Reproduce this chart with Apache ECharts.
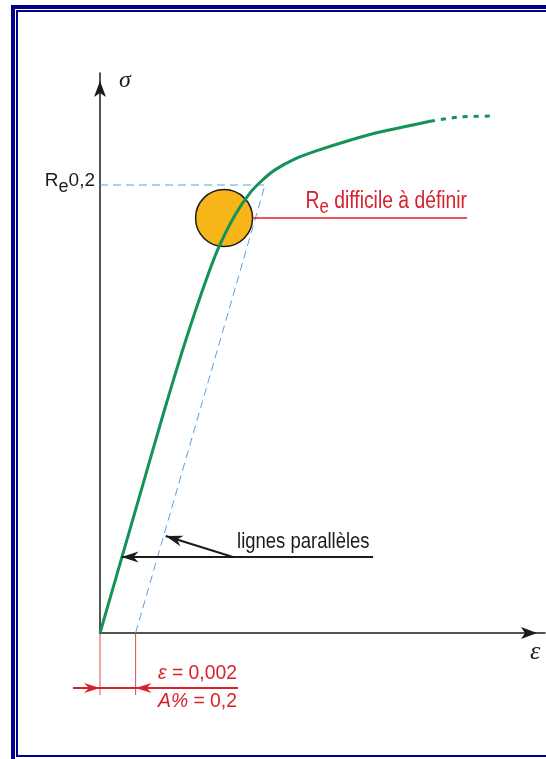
<!DOCTYPE html>
<html>
<head>
<meta charset="utf-8">
<script src="https://cdn.jsdelivr.net/npm/echarts@6/dist/echarts.min.js"></script>
<style>
  html, body { margin: 0; padding: 0; background: #fff; }
  #chart { width: 546px; height: 759px; }
</style>
</head>
<body>
<div id="chart"></div>
<script>
// courbe de traction : x = allongement A% , y = contrainte σ
var courbe = [[0, 0], [0.12, 66], [0.24, 132], [0.36, 198], [0.458, 249.5], [0.553, 295.6],
              [0.657, 340.7], [0.758, 373], [0.843, 393], [0.91, 404], [0.983, 413.5],
              [1.096, 423.3], [1.219, 430.7], [1.404, 440], [1.573, 447.3], [1.854, 457]];
var prolongement = [[1.854, 457], [2.022, 460.7], [2.219, 461.6]];
var re02 = 400;          // Re0,2
var decalage = 0.2;      // A% = 0,2
var finParallele = 0.927;
var zoneFloue = [[0.697, 370.5]];
var repere = [[0.857, 370.5], [2.062, 370.5]];
var etiquettesY = {400: '{a|R}{b|e}{a|0,2}'};

var vert = '#11935a';
var bleu = '#5a9de0';
var rouge = '#d8212a';
var noir = '#1b1b1b';
var police = '"Liberation Sans", Arial, sans-serif';
var serif = '"Liberation Serif", "Times New Roman", serif';

var chart = echarts.init(document.getElementById('chart'));

var option = {
    animation: false,
    grid: {left: 100, top: 73, width: 445, height: 560, outerBoundsMode: 'none'},
    xAxis: {
        type: 'value', min: 0, max: 2.5,
        axisLine: {
            lineStyle: {color: noir, width: 1.5},
            symbol: ['none', 'arrow'], symbolSize: [9, 16], symbolOffset: [0, -8]
        },
        axisTick: {show: false},
        axisLabel: {show: false},
        splitLine: {show: false}
    },
    yAxis: {
        type: 'value', min: 0, max: 500, interval: 400,
        axisLine: {
            show: true, onZero: false,
            lineStyle: {color: noir, width: 1.5},
            symbol: ['none', 'arrow'], symbolSize: [9, 16], symbolOffset: [0, -8]
        },
        axisTick: {show: false},
        splitLine: {show: false},
        axisLabel: {
            margin: 5,
            formatter: function (v) { return etiquettesY[v] || ''; },
            rich: {
                a: {fontFamily: police, fontSize: 19, color: noir, lineHeight: 24, padding: [0, 0, 8, 0]},
                b: {fontFamily: police, fontSize: 18, color: noir, lineHeight: 24, padding: [5, 0, 0, 0]}
            }
        }
    },
    series: [
        {
            type: 'scatter', data: zoneFloue, symbolSize: 57, z: 1, silent: true,
            itemStyle: {color: '#f7b519', borderColor: '#1c1c1c', borderWidth: 1.5, opacity: 1}
        },
        {
            type: 'line', data: [[0, re02], [finParallele, re02]], symbol: 'none', z: 2,
            lineStyle: {color: bleu, width: 1, type: [8, 5]}
        },
        {
            type: 'line', data: [[decalage, 0], [finParallele, re02]], symbol: 'none', z: 2,
            lineStyle: {color: bleu, width: 1, type: [8, 5]}
        },
        {
            type: 'line', data: courbe, symbol: 'none', smooth: 0.25, z: 3,
            lineStyle: {color: vert, width: 3}
        },
        {
            type: 'line', data: prolongement, symbol: 'none', smooth: 0.25, z: 3,
            lineStyle: {color: vert, width: 3, type: [5, 6]}
        },
        {
            type: 'line', data: repere, symbol: 'none', z: 2,
            lineStyle: {color: rouge, width: 1.5}
        }
    ]
};

chart.setOption(option);

var P = function (x, y) { return chart.convertToPixel({gridIndex: 0}, [x, y]); };

function trait(a, b, color, w) {
    return {type: 'line', z: 10, shape: {x1: a[0], y1: a[1], x2: b[0], y2: b[1]},
            style: {stroke: color, lineWidth: w}};
}
function pointe(tip, from, L, W, N, color) {
    var dx = tip[0] - from[0], dy = tip[1] - from[1];
    var len = Math.sqrt(dx * dx + dy * dy), ux = dx / len, uy = dy / len, nx = -uy, ny = ux;
    return {type: 'polygon', z: 11, style: {fill: color}, shape: {points: [
        tip,
        [tip[0] - L * ux + W * nx, tip[1] - L * uy + W * ny],
        [tip[0] - (L - N) * ux, tip[1] - (L - N) * uy],
        [tip[0] - L * ux - W * nx, tip[1] - L * uy - W * ny]
    ]}};
}
function texte(pos, txt, rich, align, sx, extra) {
    var st = {text: txt, rich: rich, align: align, verticalAlign: 'middle'};
    for (var k in extra) st[k] = extra[k];
    return {type: 'text', z: 12, x: pos[0], y: pos[1], scaleX: sx, style: st};
}

var yRe = P(0, repere[0][1])[1];
var yFleche = P(0, 67.9)[1];
var yCote = P(0, -49.1)[1];
var yBasCote = P(0, -55.4)[1];
var o = P(0, 0), d = P(decalage, 0);

var elements = [
    // cadre
    {type: 'rect', z: 0, shape: {x: 13, y: 7, width: 600, height: 800}, style: {fill: 'none', stroke: '#000088', lineWidth: 4}},
    {type: 'rect', z: 0, shape: {x: 17, y: 11, width: 600, height: 745}, style: {fill: 'none', stroke: '#000088', lineWidth: 2}},

    // noms des axes
    texte([P(0, 500)[0] + 25, P(0, 500)[1] + 8], 'σ', null, 'center', 1,
          {fontFamily: serif, fontStyle: 'italic', fontSize: 24, fill: noir}),
    texte([P(2.5, 0)[0] - 10, P(2.5, 0)[1] + 19], 'ε', null, 'center', 1,
          {fontFamily: serif, fontStyle: 'italic', fontSize: 26, fill: noir}),

    // Re difficile à définir
    texte([P(repere[1][0], 0)[0], yRe - 16], '{a|R}{b|e}{a| difficile à définir}', {
        a: {fontFamily: police, fontSize: 23, lineHeight: 26, fill: rouge},
        b: {fontFamily: police, fontSize: 20, lineHeight: 26, fill: rouge, padding: [11, 0, 0, 0]}
    }, 'right', 0.84, {}),

    // lignes parallèles
    trait(P(0.121, 67.9), P(1.534, 67.9), noir, 2),
    pointe(P(0.121, 67.9), P(1.534, 67.9), 17, 5.5, 5, noir),
    trait(P(0.747, 67.9), P(0.369, 86.6), noir, 2),
    pointe(P(0.369, 86.6), P(0.747, 67.9), 17, 5.5, 5, noir),
    texte([P(0.77, 0)[0], yFleche - 14.7], 'lignes parallèles', null, 'left', 0.84,
          {fontFamily: police, fontSize: 22, fill: noir}),

    // cote ε = 0,002
    trait([o[0], o[1] + 1], [o[0], yBasCote], '#d65050', 1),
    trait([d[0], d[1] + 1], [d[0], yBasCote], '#d65050', 1),
    trait(P(-0.152, -49.1), P(0.775, -49.1), rouge, 2),
    pointe(P(0, -49.1), P(-0.152, -49.1), 16, 5, 5, rouge),
    pointe(P(decalage, -49.1), P(0.775, -49.1), 16, 5, 5, rouge),
    texte([P(0.326, 0)[0], yCote - 14.4], '{i|ε}{n| = 0,002}', {
        i: {fontFamily: police, fontStyle: 'italic', fontSize: 21, fill: rouge},
        n: {fontFamily: police, fontSize: 21, fill: rouge}
    }, 'left', 0.92, {}),
    texte([P(0.326, 0)[0], yCote + 13.6], '{i|A%}{n| = 0,2}', {
        i: {fontFamily: police, fontStyle: 'italic', fontSize: 21, fill: rouge},
        n: {fontFamily: police, fontSize: 21, fill: rouge}
    }, 'left', 0.92, {})
];

chart.setOption({graphic: {elements: elements}});
</script>
</body>
</html>
